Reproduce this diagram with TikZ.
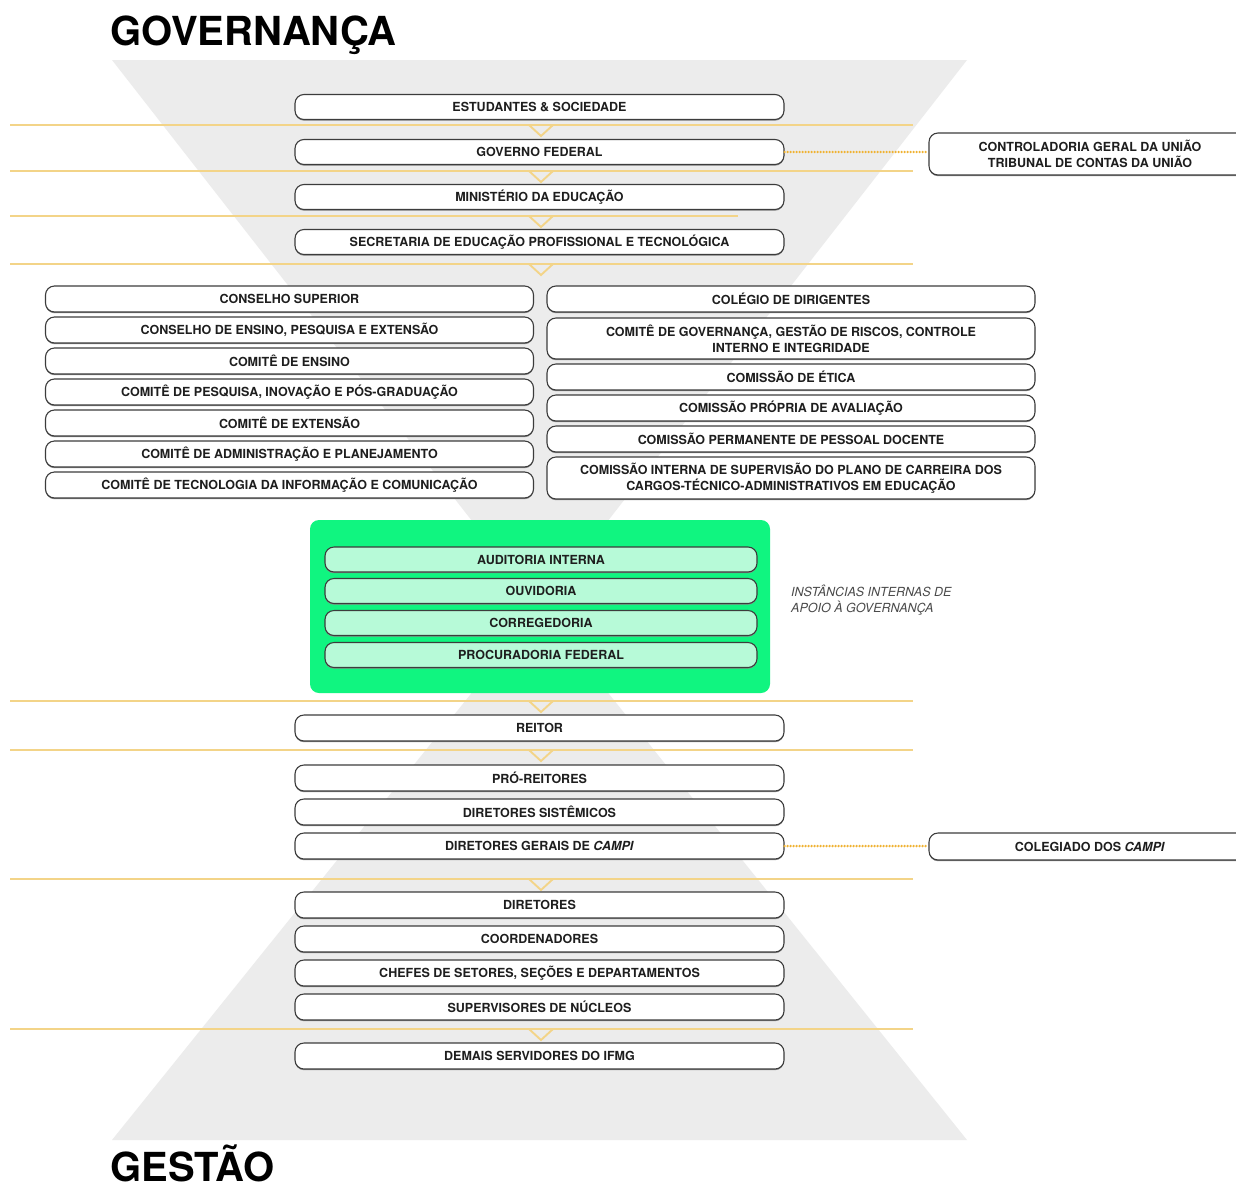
\documentclass[tikz,border=0pt]{standalone}
\usepackage{fontspec}
\setmainfont{TeX Gyre Heros}
\definecolor{bgray}{HTML}{ECECEC}
\definecolor{gold}{HTML}{F3D488}
\definecolor{dotc}{HTML}{F0B232}
\definecolor{gbright}{RGB}{16,245,128}
\definecolor{mint}{RGB}{183,250,216}
\definecolor{boxline}{HTML}{3C3C3C}
\definecolor{ink}{HTML}{1E1E1E}
\definecolor{note}{HTML}{4A4A4A}
\newcommand\bxfont{\fontsize{12.5}{16}\selectfont\bfseries}
\newcommand\ttlfont{\fontsize{40}{44}\selectfont\bfseries}
\tikzset{
  box/.style={draw=boxline, line width=1.1pt, rounded corners=9pt, fill=white,
    preaction={fill=black!45, transform canvas={yshift=-1.2pt}},
    minimum width=489pt, minimum height=25pt, inner sep=0pt,
    font=\bxfont, text=ink, align=center},
  sidebox/.style={box, minimum width=488pt, minimum height=26pt},
  gbox/.style={box, fill=mint, minimum width=432pt, minimum height=25pt},
  goldline/.style={draw=gold, line width=1.9pt},
  dotline/.style={draw=dotc, line width=2.6pt, line cap=round, dash pattern=on 0pt off 3pt},
  title/.style={anchor=base west, inner sep=0pt, font=\ttlfont, text=black},
}
\begin{document}
\begin{tikzpicture}[x=1pt,y=-1pt]
\useasboundingbox (0,0) rectangle (1236,1189);
\fill[white] (0,0) rectangle (1236,1189);
\begin{scope}
\clip (0,0) rectangle (1236,1189);
% hourglass background
\fill[bgray] (112,60) -- (967,60) -- (540,608) -- cycle;
\fill[bgray] (112,1140) -- (967,1140) -- (540,608) -- cycle;

% gold separator lines with chevrons
\foreach \yy/\xe in {125/913, 171/913, 216/738, 264/913, 701/913, 750/913, 879/913, 1029/913}{
  \draw[goldline] (10,\yy) -- (\xe,\yy);
  \draw[goldline, line join=miter] (529,\yy) -- (541,\yy+11) -- (553,\yy);
}

% titles
\node[title] (tgov) at (110,45) {GOVERNANÇA};
\node[title] (tges) at (110,1181) {GESTÃO};

% top column
\node[box] (es) at (539.5,107) {ESTUDANTES \& SOCIEDADE};
\node[box] (gf) at (539.5,152) {GOVERNO FEDERAL};
\node[box] (me) at (539.5,197) {MINISTÉRIO DA EDUCAÇÃO};
\node[box] (se) at (539.5,242) {SECRETARIA DE EDUCAÇÃO PROFISSIONAL E TECNOLÓGICA};

\node[box, minimum width=322pt, minimum height=42pt] (cgu) at (1090,154) {CONTROLADORIA GERAL DA UNIÃO\\TRIBUNAL DE CONTAS DA UNIÃO};
\draw[dotline] (gf.east) -- (gf.east -| cgu.west);

% left column
\node[sidebox] (l1) at (289.5,299) {CONSELHO SUPERIOR};
\node[sidebox] (l2) at (289.5,330) {CONSELHO DE ENSINO, PESQUISA E EXTENSÃO};
\node[sidebox] (l3) at (289.5,361) {COMITÊ DE ENSINO};
\node[sidebox] (l4) at (289.5,392) {COMITÊ DE PESQUISA, INOVAÇÃO E PÓS-GRADUAÇÃO};
\node[sidebox] (l5) at (289.5,423) {COMITÊ DE EXTENSÃO};
\node[sidebox] (l6) at (289.5,454) {COMITÊ DE ADMINISTRAÇÃO E PLANEJAMENTO};
\node[sidebox] (l7) at (289.5,485) {COMITÊ DE TECNOLOGIA DA INFORMAÇÃO E COMUNICAÇÃO};

% right column
\node[sidebox] (r1) at (791,299) {COLÉGIO DE DIRIGENTES};
\node[sidebox, minimum height=41pt] (r2) at (791,338.5) {COMITÊ DE GOVERNANÇA, GESTÃO DE RISCOS, CONTROLE\\INTERNO E INTEGRIDADE};
\node[sidebox] (r3) at (791,377) {COMISSÃO DE ÉTICA};
\node[sidebox] (r4) at (791,408) {COMISSÃO PRÓPRIA DE AVALIAÇÃO};
\node[sidebox] (r5) at (791,439) {COMISSÃO PERMANENTE DE PESSOAL DOCENTE};
\node[sidebox, minimum height=42pt] (r6) at (791,478) {COMISSÃO INTERNA DE SUPERVISÃO DO PLANO DE CARREIRA DOS\\CARGOS-TÉCNICO-ADMINISTRATIVOS EM EDUCAÇÃO};

% green block
\node[fill=gbright, rounded corners=9pt, minimum width=460pt, minimum height=173pt, inner sep=0pt] (green) at (540,606.5) {};
\node[gbox] (g1) at (541,559.5) {AUDITORIA INTERNA};
\node[gbox] (g2) at (541,591) {OUVIDORIA};
\node[gbox] (g3) at (541,623) {CORREGEDORIA};
\node[gbox] (g4) at (541,655) {PROCURADORIA FEDERAL};
\node[anchor=north west, inner sep=0pt, align=left, text=note,
      font=\fontsize{12.5}{16}\selectfont\itshape] (lab) at (791,585) {INSTÂNCIAS INTERNAS DE\\APOIO À GOVERNANÇA};

% management column
\node[box, minimum height=26pt] (re) at (539.5,728) {REITOR};
\node[box, minimum height=26pt] (pr) at (539.5,778) {PRÓ-REITORES};
\node[box, minimum height=26pt] (ds) at (539.5,812) {DIRETORES SISTÊMICOS};
\node[box, minimum height=26pt] (dg) at (539.5,846) {DIRETORES GERAIS DE \textit{CAMPI}};
\node[box, minimum width=322pt, minimum height=27pt] (col) at (1090,846.5) {COLEGIADO DOS \textit{CAMPI}};
\draw[dotline] (dg.east) -- (dg.east -| col.west);

\node[box, minimum height=26pt] (di) at (539.5,905) {DIRETORES};
\node[box, minimum height=26pt] (co) at (539.5,939) {COORDENADORES};
\node[box, minimum height=26pt] (ch) at (539.5,973) {CHEFES DE SETORES, SEÇÕES E DEPARTAMENTOS};
\node[box, minimum height=26pt] (su) at (539.5,1007) {SUPERVISORES DE NÚCLEOS};
\node[box, minimum height=26pt] (dm) at (539.5,1056) {DEMAIS SERVIDORES DO IFMG};
\end{scope}
\end{tikzpicture}
\end{document}
